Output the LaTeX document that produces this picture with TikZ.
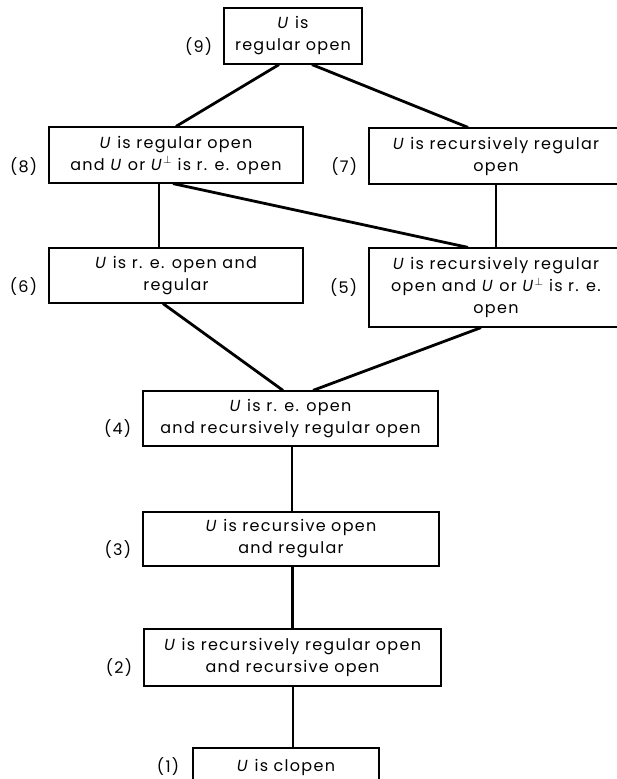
\documentclass[tikz,border=0pt]{standalone}
\usepackage{fontspec}
\setmainfont{Poppins}[LetterSpace=8]
\usepackage{tikz}
\usetikzlibrary{positioning}

\begin{document}
\begin{tikzpicture}[x=1pt,y=-1pt, every node/.style={font=\fontsize{16}{22}\selectfont}, prop/.style={draw,line width=1.2pt,minimum height=56pt,align=center,inner sep=2pt}, link/.style={line width=2.8pt}, num/.style={inner sep=0pt}]
\useasboundingbox (0,0) rectangle (616,779);
\node[prop,minimum width=138pt] (n9) at (293,36) {\textit{U} is\\regular open};
\node[prop,minimum width=254pt,minimum height=56pt] (n8) at (176,155) {\textit{U} is regular open\\and \textit{U} or \textit{U}$^{\perp}$ is r. e. open};
\node[prop,minimum width=254pt] (n7) at (496,156) {\textit{U} is recursively regular\\open};
\node[prop,minimum width=254pt,minimum height=55pt] (n6) at (176,275.5) {\textit{U} is r. e. open and\\regular};
\node[prop,minimum width=254pt,minimum height=79pt] (n5) at (496,287.5) {\textit{U} is recursively regular\\open and \textit{U} or \textit{U}$^{\perp}$ is r. e.\\open};
\node[prop,minimum width=295pt,minimum height=55pt] (n4) at (290.5,418.5) {\textit{U} is r. e. open\\and recursively regular open};
\node[prop,minimum width=296pt,minimum height=54pt] (n3) at (291,539) {\textit{U} is recursive open\\and regular};
\node[prop,minimum width=297pt,minimum height=57pt] (n2) at (292.5,657.5) {\textit{U} is recursively regular open\\and recursive open};
\node[prop,minimum width=186pt,minimum height=38pt] (n1) at (286,767) {\textit{U} is clopen};
\node[num,left=11pt of n9.west,yshift=-11pt] (l9) {(9)};
\node[num,left=11pt of n8.west,yshift=-12pt] (l8) {(8)};
\node[num,left=11pt of n7.west,yshift=-11pt] (l7) {(7)};
\node[num,left=11pt of n6.west,yshift=-11.5pt] (l6) {(6)};
\node[num,left=11pt of n5.west] (l5) {(5)};
\node[num,left=11pt of n4.west,yshift=-10.5pt] (l4) {(4)};
\node[num,left=11pt of n3.west,yshift=-11pt] (l3) {(3)};
\node[num,left=11pt of n2.west,yshift=-10.5pt] (l2) {(2)};
\node[num,left=13pt of n1.west] (l1) {(1)};
\draw[link] ([xshift=-14pt]n9.south) -- (n8.north);
\draw[link] ([xshift=19pt]n9.south) -- ([xshift=-28pt]n7.north);
\draw[link] ([xshift=-17pt]n8.south) -- ([xshift=-17pt]n6.north);
\draw[link] ([xshift=-3pt]n8.south) -- ([xshift=-28pt]n5.north);
\draw[link] (n7.south) -- (n5.north);
\draw[link] ([xshift=-13pt]n6.south) -- ([xshift=-7.5pt]n4.north);
\draw[link] ([xshift=-15pt]n5.south) -- ([xshift=22.5pt]n4.north);
\draw[link] ([xshift=1.5pt]n4.south) -- ([xshift=1pt]n3.north);
\draw[link] ([xshift=1.5pt]n3.south) -- (n2.north);
\draw[link] ([xshift=0.5pt]n2.south) -- ([xshift=0.5pt]n2.south |- n1.north);
\end{tikzpicture}
\end{document}
